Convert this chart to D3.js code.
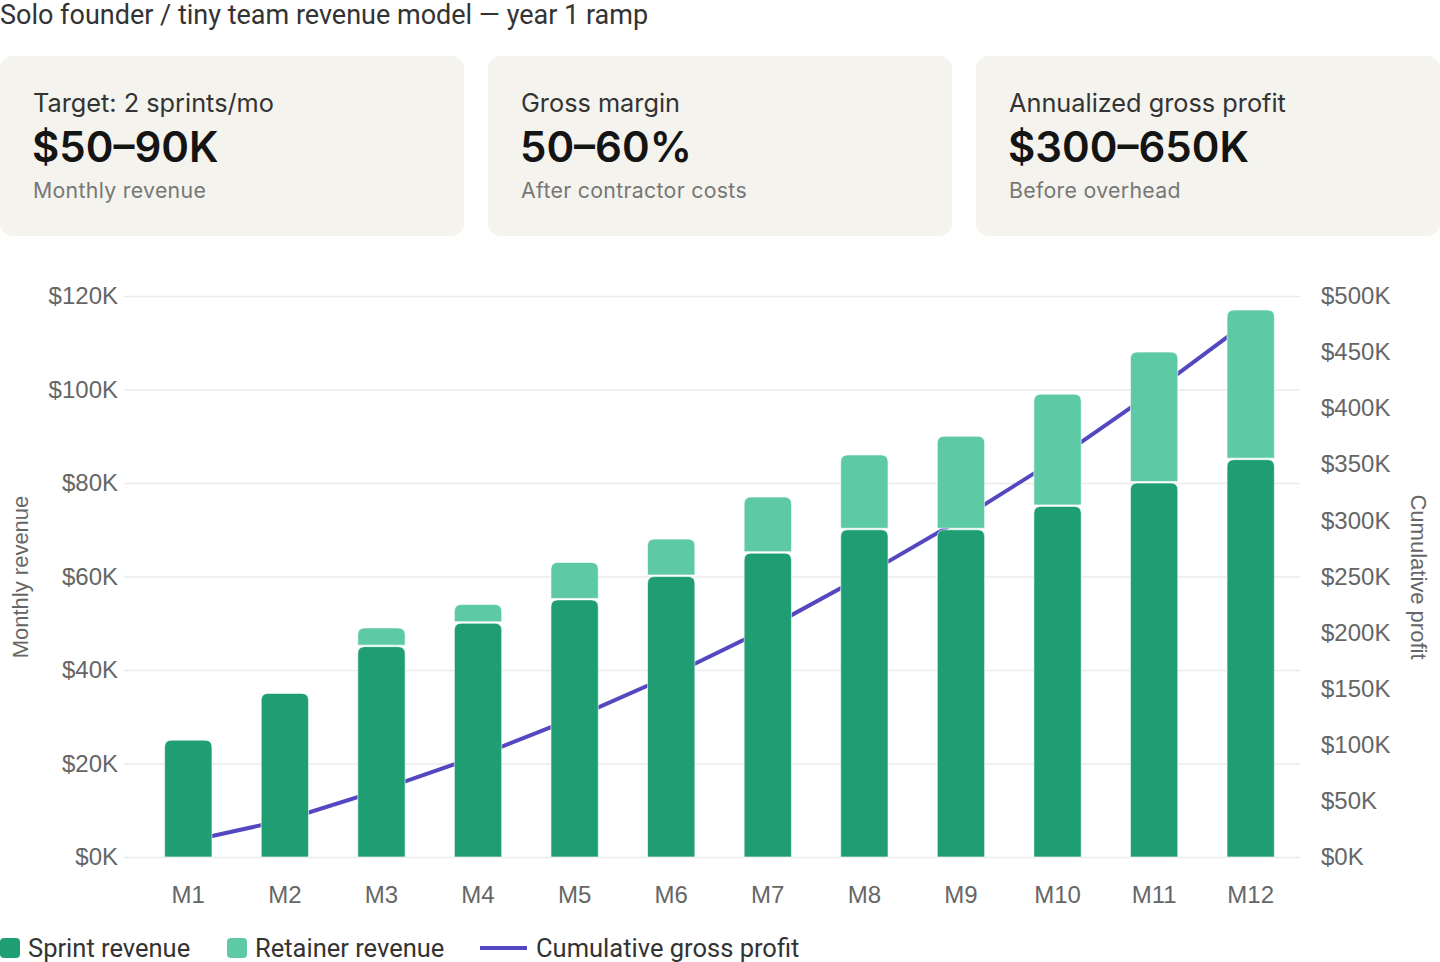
<!DOCTYPE html>
<html>
<head>
<meta charset="utf-8">
<script src="https://cdn.jsdelivr.net/npm/d3@7"></script>
<style>
  body { margin: 0; background: #fff; }
  svg { display: block; }
</style>
</head>
<body>
<svg width="1440" height="962"></svg>
<script>
// data
var months = ["M1","M2","M3","M4","M5","M6","M7","M8","M9","M10","M11","M12"];
var sprint = [25, 35, 45, 50, 55, 60, 65, 70, 70, 75, 80, 85];
var retainer = [0, 0, 4, 4, 8, 8, 12, 16, 20, 24, 28, 32];
var cumProfit = [14, 33, 60, 90, 124, 162, 204, 251, 301, 355, 415, 479];
var leftTicks = [0, 20, 40, 60, 80, 100, 120];
var rightTicks = [0, 50, 100, 150, 200, 250, 300, 350, 400, 450, 500];

var cards = [
  {label: "Target: 2 sprints/mo", value: "$50–90K", sub: "Monthly revenue"},
  {label: "Gross margin", value: "50–60%", sub: "After contractor costs"},
  {label: "Annualized gross profit", value: "$300–650K", sub: "Before overhead"}
];

var colSprint = "#1f9e74", colRetainer = "#5dc9a5", colLine = "#5448c0";

var svg = d3.select("svg");

// title
svg.append("text")
  .attr("x", 0).attr("y", 24)
  .style("font-family", "Roboto, sans-serif")
  .style("font-size", "27px")
  .style("fill", "#333")
  .text("Solo founder / tiny team revenue model — year 1 ramp");

// stat cards
var cardG = svg.selectAll("g.card")
  .data(cards)
  .enter()
  .append("g")
  .attr("class", "card")
  .attr("transform", function(d, i) { return "translate(" + (i * 488) + ",56)"; });

cardG.append("rect")
  .attr("width", 464).attr("height", 180)
  .attr("rx", 13)
  .style("fill", "#f4f3ed");

cardG.append("text")
  .attr("x", 33).attr("y", 56)
  .style("font-family", "Inter, sans-serif")
  .style("font-size", "25.3px")
  .style("fill", "#333")
  .text(function(d) { return d.label; });

cardG.append("text")
  .attr("x", 32).attr("y", 106)
  .style("font-family", "Inter, sans-serif")
  .style("font-size", "42px")
  .style("font-weight", 600)
  .style("fill", "#141414")
  .text(function(d) { return d.value; });

cardG.append("text")
  .attr("x", 33).attr("y", 142)
  .style("font-family", "Inter, sans-serif")
  .style("font-size", "21.3px")
  .style("letter-spacing", "0.3px")
  .style("fill", "#777")
  .text(function(d) { return d.sub; });

// scales
var xScale = d3.scaleBand().domain(months).range([140, 1299]);
var yLeft = d3.scaleLinear().domain([0, 120]).range([857, 296]);
var yRight = d3.scaleLinear().domain([0, 500]).range([857, 296]);
var barW = xScale.bandwidth() * 0.49;

var tickFont = "'Liberation Sans', Arial, sans-serif";

// left axis with gridlines
var yAxisL = d3.axisLeft(yLeft)
  .tickValues(leftTicks)
  .tickSize(-1176)
  .tickPadding(6)
  .tickFormat(function(d) { return "$" + d + "K"; });

var gl = svg.append("g")
  .attr("transform", "translate(124,0)")
  .call(yAxisL);
gl.select(".domain").remove();
gl.selectAll(".tick line").style("stroke", "#ebebeb").style("stroke-width", 1.5);
gl.selectAll(".tick text")
  .attr("x", -6)
  .style("font-family", tickFont)
  .style("font-size", "24px")
  .style("fill", "#666");

// right axis
var yAxisR = d3.axisRight(yRight)
  .tickValues(rightTicks)
  .tickSize(0)
  .tickPadding(0)
  .tickFormat(function(d) { return "$" + d + "K"; });

var gr = svg.append("g")
  .attr("transform", "translate(1321,0)")
  .call(yAxisR);
gr.select(".domain").remove();
gr.selectAll(".tick text")
  .style("font-family", tickFont)
  .style("font-size", "24px")
  .style("fill", "#666");

// x axis
var xAxis = d3.axisBottom(xScale).tickSize(0).tickPadding(0);
var gx = svg.append("g")
  .attr("transform", "translate(0,886)")
  .call(xAxis);
gx.select(".domain").remove();
gx.selectAll(".tick text")
  .attr("dy", "0.71em")
  .style("font-family", tickFont)
  .style("font-size", "24px")
  .style("fill", "#666");

// axis titles
svg.append("text")
  .attr("transform", "translate(28,577) rotate(-90)")
  .attr("text-anchor", "middle")
  .style("font-family", tickFont)
  .style("font-size", "22px")
  .style("fill", "#666")
  .text("Monthly revenue");

svg.append("text")
  .attr("transform", "translate(1411,577) rotate(90)")
  .attr("text-anchor", "middle")
  .style("font-family", tickFont)
  .style("font-size", "22px")
  .style("fill", "#666")
  .text("Cumulative profit");

// cumulative profit line (drawn behind bars)
var profitLine = d3.line()
  .x(function(d, i) { return xScale(months[i]) + xScale.bandwidth() / 2; })
  .y(function(d) { return yRight(d); });

svg.append("path")
  .attr("d", profitLine(cumProfit))
  .attr("fill", "none")
  .attr("stroke", colLine)
  .attr("stroke-width", 4);

// rounded-top bar path
function topRounded(x, y, w, h, r) {
  r = Math.min(r, h / 2, w / 2);
  return "M" + x + "," + (y + h) +
    "V" + (y + r) +
    "Q" + x + "," + y + " " + (x + r) + "," + y +
    "H" + (x + w - r) +
    "Q" + (x + w) + "," + y + " " + (x + w) + "," + (y + r) +
    "V" + (y + h) + "Z";
}

var rows = months.map(function(m, i) {
  return {m: m, s: sprint[i], r: retainer[i]};
});

svg.selectAll("path.sprint")
  .data(rows)
  .enter()
  .append("path")
  .attr("class", "sprint")
  .attr("d", function(d) {
    var x = xScale(d.m) + (xScale.bandwidth() - barW) / 2;
    return topRounded(x, yLeft(d.s), barW, yLeft(0) - yLeft(d.s), 7);
  })
  .style("fill", colSprint)
  .style("stroke", "rgba(255,255,255,0.6)")
  .style("stroke-width", 1);

svg.selectAll("path.retainer")
  .data(rows.filter(function(d) { return d.r > 0; }))
  .enter()
  .append("path")
  .attr("class", "retainer")
  .attr("d", function(d) {
    var x = xScale(d.m) + (xScale.bandwidth() - barW) / 2;
    var top = yLeft(d.s + d.r);
    return topRounded(x, top, barW, yLeft(d.s) - top - 1.5, 7);
  })
  .style("fill", colRetainer)
  .style("stroke", "rgba(255,255,255,0.6)")
  .style("stroke-width", 1);

// legend
var legendFont = "Roboto, sans-serif";
var lg = svg.append("g").attr("transform", "translate(0,948)");

lg.append("rect").attr("x", 0).attr("y", -10).attr("width", 20).attr("height", 20).attr("rx", 4).style("fill", colSprint);
lg.append("text").attr("x", 28).attr("y", 9)
  .style("font-family", legendFont).style("font-size", "25.5px").style("fill", "#333")
  .text("Sprint revenue");

lg.append("rect").attr("x", 227).attr("y", -10).attr("width", 20).attr("height", 20).attr("rx", 4).style("fill", colRetainer);
lg.append("text").attr("x", 255).attr("y", 9)
  .style("font-family", legendFont).style("font-size", "25.5px").style("fill", "#333")
  .text("Retainer revenue");

lg.append("line").attr("x1", 480).attr("x2", 527).attr("y1", 0).attr("y2", 0)
  .style("stroke", colLine).style("stroke-width", 4);
lg.append("text").attr("x", 536).attr("y", 9)
  .style("font-family", legendFont).style("font-size", "25.5px").style("fill", "#333")
  .text("Cumulative gross profit");
</script>
</body>
</html>
